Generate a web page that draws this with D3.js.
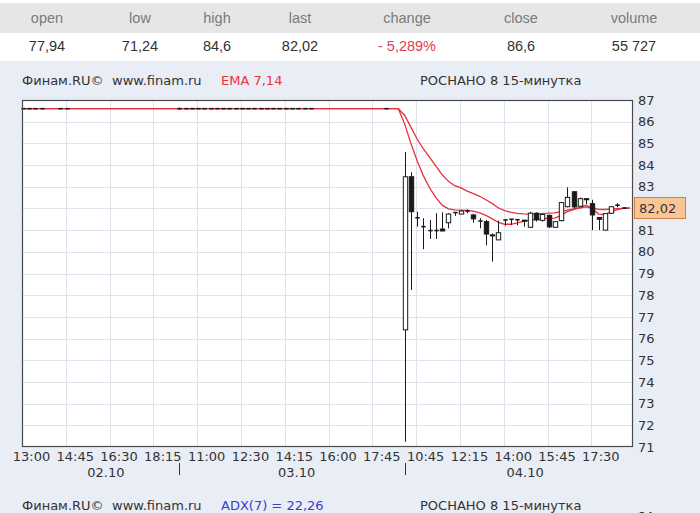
<!DOCTYPE html>
<html><head><meta charset="utf-8">
<script src="https://cdn.jsdelivr.net/npm/d3@7"></script>
<style>body{margin:0;background:#e9edf5;} svg{display:block;}</style>
</head><body><svg id="c" width="700" height="513"></svg>
<script>
// ---------- data ----------
const headers = ["open","low","high","last","change","close","volume"];
const headerValues = ["77,94","71,24","84,6","82,02","- 5,289%","86,6","55 727"];
const timeLabels = ["13:00","14:45","16:30","18:15","11:00","12:30","14:15","16:00","17:45","10:45","12:15","14:00","15:45","17:30"];
const timeLabelIdx = [0,7,14,21,28,35,42,49,56,63,70,77,84,91];
const dayLabels = ["02.10","03.10","04.10"];
const dayStarts = [0,25,61];
const dayEnd = 98;
const yTicks = [71,72,73,74,75,76,77,78,79,80,81,82,83,84,85,86,87];
const lastPrice = 82.02;

const candleIdx = [0,1,2,3,6,7,25,26,27,28,29,30,31,32,33,34,35,36,37,38,39,40,41,42,43,44,45,46,58,
  61,62,63,64,65,66,67,68,69,70,71,72,73,74,75,76,77,78,79,80,81,82,83,84,85,86,87,88,89,90,91,92,93,94,95,96];
const opens = [86.6,86.6,86.6,86.6,86.6,86.6,86.6,86.6,86.6,86.6,86.6,86.6,86.6,86.6,86.6,86.6,86.6,86.6,86.6,86.6,86.6,86.6,86.6,86.6,86.6,86.6,86.6,86.6,86.6,
  76.40,83.46,81.57,81.16,80.98,80.98,81.05,81.34,81.81,81.74,81.88,81.70,81.42,81.39,80.78,80.55,81.47,81.50,81.48,81.46,81.13,81.78,81.45,81.68,81.13,81.44,82.08,82.77,82.10,82.45,82.22,81.58,81.00,81.78,82.15,82.02];
const highs = [86.6,86.6,86.6,86.6,86.6,86.6,86.65,86.6,86.6,86.6,86.6,86.6,86.6,86.6,86.6,86.6,86.6,86.6,86.6,86.6,86.6,86.6,86.6,86.6,86.6,86.6,86.6,86.6,86.6,
  84.60,83.67,81.85,81.55,81.47,81.78,81.82,81.78,81.81,81.92,81.96,81.75,81.55,81.47,80.85,81.44,81.47,81.50,81.48,81.46,81.85,81.82,81.75,81.72,81.42,82.30,82.97,82.80,82.50,82.45,82.40,81.60,81.78,82.10,82.24,82.02];
const lows = [86.6,86.6,86.6,86.6,86.6,86.6,86.55,86.6,86.6,86.6,86.6,86.6,86.6,86.6,86.6,86.6,86.6,86.6,86.6,86.6,86.6,86.6,86.6,86.6,86.6,86.6,86.6,86.6,86.6,
  71.24,78.24,81.16,80.12,80.59,80.59,80.96,81.08,81.66,81.74,81.78,81.34,81.08,80.30,79.55,80.55,81.20,81.24,81.22,81.16,81.10,81.40,81.40,81.10,81.10,81.40,82.05,82.00,82.07,82.20,81.00,81.00,81.00,81.75,82.05,82.02];
const closes = [86.6,86.6,86.6,86.6,86.6,86.6,86.6,86.6,86.6,86.6,86.6,86.6,86.6,86.6,86.6,86.6,86.6,86.6,86.6,86.6,86.6,86.6,86.6,86.6,86.6,86.6,86.6,86.6,86.6,
  83.46,81.85,81.57,81.16,80.98,80.98,80.96,81.74,81.81,81.88,81.88,81.52,81.42,80.82,80.74,80.88,81.47,81.50,81.48,81.42,81.78,81.47,81.72,81.15,81.39,82.27,82.51,82.07,82.45,82.40,81.70,81.50,81.76,82.08,82.15,82.02];

const emaIdx = [0,60,61,62,63,64,65,66,67,68,69,70,71,72,73,74,75,76,77,78,79,80,81,82,83,84,85,86,87,88,89,90,91,92,93,94,95,96,97];
const ema7 = [86.6,86.6,85.9,85.0,84.2,83.5,82.95,82.5,82.15,81.98,81.93,81.92,81.91,81.88,81.8,81.68,81.52,81.36,81.27,81.27,81.33,81.4,81.46,81.5,81.53,81.54,81.55,81.68,81.85,81.95,82.05,82.15,81.98,81.74,81.72,81.85,81.95,82.0,82.02];
const ema14 = [86.6,86.6,86.3,85.75,85.2,84.75,84.35,83.95,83.55,83.25,83.05,82.95,82.8,82.68,82.56,82.4,82.22,82.02,81.9,81.82,81.77,81.75,81.74,81.75,81.77,81.78,81.8,81.85,81.92,81.98,82.02,82.07,82.02,81.96,81.95,81.97,81.99,82.0,82.01];

// ---------- layout ----------
const W = 700, H = 513;
const plot = {l:22, r:633, t:100, b:447};
const svg = d3.select("#c");
const FONT = "'DejaVu Sans', Verdana, sans-serif";

svg.append("rect").attr("width",W).attr("height",H).attr("fill","#e9edf5");
svg.append("rect").attr("width",W).attr("height",61).attr("fill","#ffffff");
svg.append("rect").attr("y",3).attr("width",W).attr("height",30).attr("fill","#e6e6e6");

const colX = [47,140,217,300,407,521,634];
svg.selectAll("text.hd").data(headers).enter().append("text")
  .attr("x",(d,i)=>colX[i]).attr("y",23).attr("text-anchor","middle")
  .attr("font-family","'Liberation Sans', Arial, sans-serif").attr("font-size",14.5)
  .attr("fill","#7a7a7a").text(d=>d);
svg.selectAll("text.hv").data(headerValues).enter().append("text")
  .attr("x",(d,i)=>colX[i]).attr("y",51).attr("text-anchor","middle")
  .attr("font-family","'Liberation Sans', Arial, sans-serif").attr("font-size",14.5)
  .attr("fill",(d,i)=> headers[i]==="change" ? "#e2404e" : "#333").text(d=>d);

function titleRow(yb, indicator, indColor){
  const g = svg.append("g").attr("font-family",FONT).attr("font-size",13);
  g.append("text").attr("x",22).attr("y",yb).attr("fill","#333").text("Финам.RU©");
  g.append("text").attr("x",112).attr("y",yb).attr("fill","#333").text("www.finam.ru");
  g.append("text").attr("x",221).attr("y",yb).attr("fill",indColor).text(indicator);
  g.append("text").attr("x",420).attr("y",yb).attr("fill","#333").text("РОСНАНО 8 15-минутка");
}
titleRow(85, "EMA 7,14", "#e8333f");
titleRow(510, "ADX(7) = 22,26", "#3b3bd0");
svg.append("text").attr("x",637).attr("y",521).attr("font-family",FONT).attr("font-size",13).attr("fill","#333").text("64");

// ---------- scales ----------
const x = d3.scaleLinear().domain([-0.15, 97.5]).range([plot.l, plot.r]);
const y = d3.scaleLinear().domain([71, 87]).range([plot.b, plot.t]);
const step = x(1) - x(0);
const bw = step * 0.7;
const px = v => Math.round(v) + 0.5;

svg.append("rect").attr("x",plot.l).attr("y",plot.t).attr("width",plot.r-plot.l).attr("height",plot.b-plot.t).attr("fill","#fff");

// grid
const grid = svg.append("g").attr("stroke","#dde3ec").attr("stroke-width",1);
grid.selectAll("line.h").data(yTicks.slice(1,-1)).enter().append("line")
  .attr("x1",plot.l).attr("x2",plot.r).attr("y1",d=>px(y(d))).attr("y2",d=>px(y(d)));
grid.selectAll("line.v").data(timeLabelIdx.slice(1)).enter().append("line")
  .attr("x1",d=>px(x(d)-1)).attr("x2",d=>px(x(d)-1)).attr("y1",plot.t).attr("y2",plot.b);

// EMA lines (under the candles)
const line = d3.line().x(d=>x(d[0])).y(d=>y(d[1]));
[ema14, ema7].forEach(arr=>{
  svg.append("path").datum(emaIdx.map((d,i)=>[d,arr[i]])).attr("d",line)
    .attr("fill","none").attr("stroke","#e5323e").attr("stroke-width",1.3);
});

// candles
const candles = candleIdx.map((d,i)=>({i:d,o:opens[i],h:highs[i],l:lows[i],c:closes[i]}));
const cg = svg.append("g");
candles.forEach(d=>{
  const cx = px(x(d.i));
  if (d.h !== d.l) cg.append("line").attr("x1",cx).attr("x2",cx).attr("y1",y(d.h)).attr("y2",y(d.l)).attr("stroke","#1a1a1a").attr("stroke-width",1);
  if (Math.abs(d.o - d.c) < 0.02) {
    cg.append("line").attr("x1",cx-bw/2).attr("x2",cx+bw/2).attr("y1",y(d.o)).attr("y2",y(d.o)).attr("stroke","#1a1a1a").attr("stroke-width",1.6);
  } else {
    const top = y(Math.max(d.o,d.c)), bot = y(Math.min(d.o,d.c));
    cg.append("rect").attr("x",cx-bw/2).attr("y",top).attr("width",bw).attr("height",Math.max(1,bot-top))
      .attr("fill", d.c > d.o ? "#fff" : "#1a1a1a").attr("stroke","#1a1a1a").attr("stroke-width",1);
  }
});

// border
svg.append("rect").attr("x",plot.l+0.5).attr("y",plot.t+0.5).attr("width",plot.r-plot.l-1).attr("height",plot.b-plot.t-1)
  .attr("fill","none").attr("stroke","#4a4a4a").attr("stroke-width",1.2);

// y axis (the label under the last-price marker is hidden by it)
const ya = svg.append("g").attr("transform",`translate(${plot.r},0)`)
  .call(d3.axisRight(y).tickValues(yTicks.filter(t=>Math.abs(t-lastPrice)>0.5)).tickSize(0).tickPadding(5).tickFormat(d3.format("d")));
ya.select(".domain").remove();
ya.selectAll("text").attr("font-family",FONT).attr("font-size",13).attr("fill","#333");

// x axis
const xa = svg.append("g").attr("transform",`translate(0,${plot.b})`)
  .call(d3.axisBottom(x).tickValues(timeLabelIdx).tickSize(0).tickPadding(5).tickFormat((d,i)=>timeLabels[i]));
xa.select(".domain").remove();
xa.selectAll("text").attr("font-family",FONT).attr("font-size",13).attr("fill","#333").attr("dx",8);

// day separators and labels
svg.selectAll("line.sep").data(dayStarts.slice(1)).enter().append("line")
  .attr("x1",d=>px(x(d))).attr("x2",d=>px(x(d))).attr("y1",463).attr("y2",475).attr("stroke","#333");
svg.selectAll("text.day").data(dayLabels).enter().append("text")
  .attr("x",(d,i)=> x(((dayStarts[i]) + (i<dayStarts.length-1 ? dayStarts[i+1] : dayEnd))/2 + 0.75))
  .attr("y",476.5).attr("text-anchor","middle").attr("font-family",FONT).attr("font-size",13).attr("fill","#333").text(d=>d);

// last price marker
const lp = svg.append("g").attr("transform",`translate(${plot.r+1},${y(lastPrice)})`);
lp.append("rect").attr("x",0.5).attr("y",-10.5).attr("width",51).attr("height",21).attr("fill","#fac596").attr("stroke","#c9823f");
lp.append("text").attr("x",5).attr("y",4.6).attr("font-family",FONT).attr("font-size",13).attr("fill","#333").text(d3.format(".2f")(lastPrice).replace(".",","));
</script></body></html>
